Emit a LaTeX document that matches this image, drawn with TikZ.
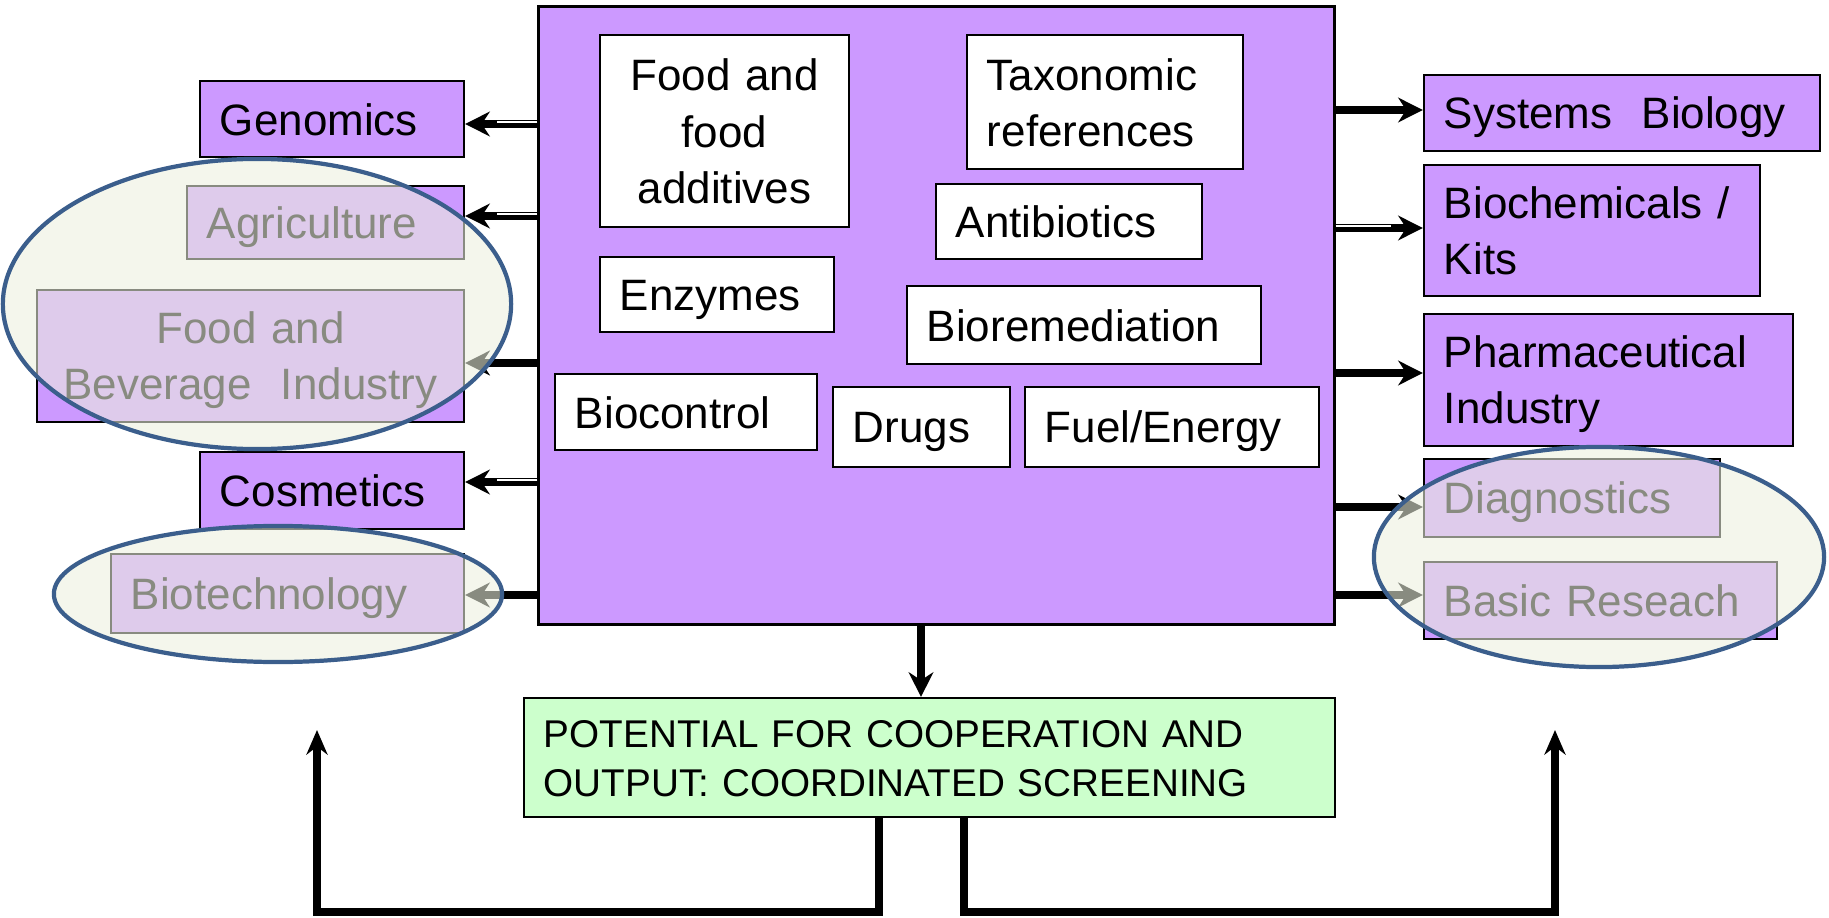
\documentclass[tikz,border=0pt]{standalone}
\usepackage{fontspec}
\setmainfont{Liberation Sans}
\usetikzlibrary{arrows.meta}
\definecolor{vio}{HTML}{CC99FF}
\definecolor{mint}{HTML}{CCFFCC}
\definecolor{ring}{HTML}{3B5E8C}
\definecolor{haze}{RGB}{236,240,222}
\newcommand{\bstrut}{\rule[-0.18em]{0pt}{1.1em}}
\tikzset{
  basebox/.style={draw=black, line width=0.6pt, inner xsep=0.2cm, inner ysep=0pt,
    font=\fontsize{12.5}{16}\selectfont, align=left,
    execute at begin node=\bstrut, execute at end node=\bstrut},
  obox/.style={basebox, fill=vio},
  ibox/.style={basebox, fill=white},
  arr/.style={line width=2.5pt, -{Stealth[length=7pt,width=7pt]}},
  darr/.style={arr, postaction={draw=white, line width=0.5pt, -, shorten >=9pt, transform canvas={yshift=0.6pt}}},
  farr/.style={line width=2.3pt, line join=miter, -{Stealth[length=7pt,width=6pt]}},
  hazefill/.style={fill=haze, fill opacity=0.58},
  ringline/.style={draw=ring, line width=1.2pt},
}
\begin{document}
\begin{tikzpicture}[x=0.01cm,y=-0.01cm]
\useasboundingbox (0,0) rectangle (1829,918);

% central box
\node[draw=black, fill=vio, line width=0.8pt, minimum width=7.95cm, minimum height=6.17cm, inner sep=0pt] (main) at (936.5,315.5) {};

% inner boxes
\node[ibox, align=center, text width=2.09cm, minimum height=1.92cm] (food) at (724.5,131) {Food and\\food\\additives};
\node[ibox, text width=2.36cm, minimum height=1.34cm] (tax) at (1105,102) {Taxonomic\\references};
\node[ibox, text width=2.26cm, minimum height=0.75cm] (anti) at (1069,221.5) {Antibiotics};
\node[ibox, text width=1.94cm, minimum height=0.75cm] (enz) at (717,294.5) {Enzymes};
\node[ibox, text width=3.14cm, minimum height=0.78cm] (biorem) at (1084,325) {Bioremediation};
\node[ibox, text width=2.22cm, minimum height=0.76cm] (bioc) at (686,412) {Biocontrol};
\node[ibox, text width=1.37cm, minimum height=0.80cm] (drugs) at (921.5,427) {Drugs};
\node[ibox, text width=2.54cm, minimum height=0.80cm] (fuel) at (1172,427) {Fuel/Energy};

% left boxes
\node[obox, text width=2.24cm, minimum height=0.76cm] (gen) at (332,119) {Genomics};
\node[obox, text width=2.37cm, minimum height=0.73cm] (agri) at (325.5,222.5) {Agriculture};
\node[obox, align=center, text width=3.87cm, minimum height=1.32cm] (fab) at (250.5,356) {Food and\\Beverage\ \ Industry};
\node[obox, text width=2.24cm, minimum height=0.77cm] (cos) at (332,490.5) {Cosmetics};
\node[obox, text width=3.13cm, minimum height=0.79cm] (biotech) at (287.5,593.5) {Biotechnology};

% right boxes
\node[obox, text width=3.56cm, minimum height=0.76cm] (sys) at (1622,113) {Systems\ \ Biology};
\node[obox, text width=2.96cm, minimum height=1.31cm] (biochem) at (1592,230.5) {Biochemicals /\\Kits};
\node[obox, text width=3.29cm, minimum height=1.32cm] (pharma) at (1608.5,380) {Pharmaceutical\\Industry};
\node[obox, text width=2.56cm, minimum height=0.78cm] (diag) at (1572,498) {Diagnostics};
\node[obox, text width=3.13cm, minimum height=0.77cm] (basic) at (1600.5,600.5) {Basic Reseach};

% output box
\node[basebox, fill=mint, font=\fontsize{11}{14}\selectfont,
      text width=7.71cm, minimum height=1.19cm] (green) at (929.5,757.5)
      {POTENTIAL FOR COOPERATION AND\\OUTPUT: COORDINATED SCREENING};

% arrows to the left
\draw[darr] (main.west |- 0,124) -- (gen.east |- 0,124);
\draw[darr] (main.west |- 0,216) -- (agri.east |- 0,216);
\draw[arr]  (main.west |- 0,363) -- (fab.east |- 0,363);
\draw[darr] (main.west |- 0,482) -- (cos.east |- 0,482);
\draw[arr]  (main.west |- 0,595) -- (biotech.east |- 0,595);

% arrows to the right
\draw[arr]  (main.east |- 0,110) -- (sys.west |- 0,110);
\draw[darr] (main.east |- 0,228) -- (biochem.west |- 0,228);
\draw[arr]  (main.east |- 0,373) -- (pharma.west |- 0,373);
\draw[arr]  (main.east |- 0,507) -- (diag.west |- 0,507);
\draw[arr]  (main.east |- 0,595) -- (basic.west |- 0,595);

% down arrow
\draw[arr] (main.south -| 921,0) -- (green.north -| 921,0);

% feedback arrows
\coordinate (fbl) at (317,730);
\coordinate (fbr) at (1555,730);
\draw[farr] (green.south -| 879,0) -- (879,912) -- (317,912) -- (fbl);
\draw[farr] (green.south -| 964,0) -- (964,912) -- (1555,912) -- (fbr);

% highlight ellipses
\fill[hazefill] (257,304) ellipse [x radius=2.54cm, y radius=1.45cm];
\fill[hazefill] (278,594) ellipse [x radius=2.24cm, y radius=0.68cm];
\fill[hazefill] (1599,557) ellipse [x radius=2.25cm, y radius=1.10cm];
\draw[ringline] (257,304) ellipse [x radius=2.54cm, y radius=1.45cm];
\draw[ringline] (278,594) ellipse [x radius=2.24cm, y radius=0.68cm];
\draw[ringline] (1599,557) ellipse [x radius=2.25cm, y radius=1.10cm];
\end{tikzpicture}
\end{document}
